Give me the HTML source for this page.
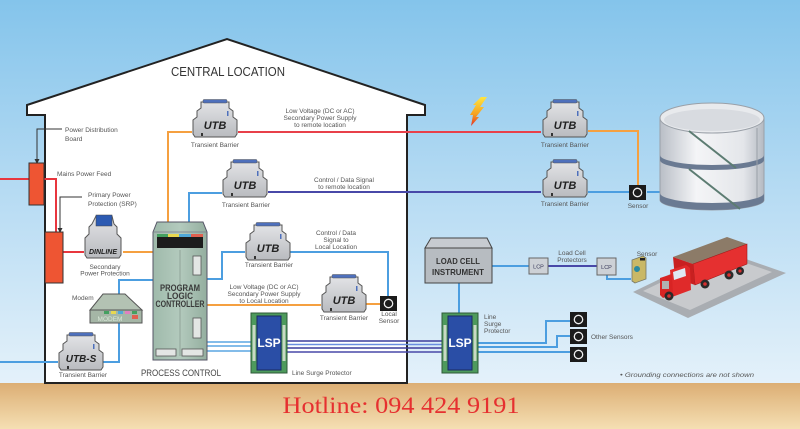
<!DOCTYPE html>
<html><head><meta charset="utf-8"><style>
html,body{margin:0;padding:0;background:#fff}
svg{display:block}
</style></head><body>
<svg width="800" height="429" viewBox="0 0 800 429" xmlns="http://www.w3.org/2000/svg" style="font-family:'Liberation Sans',sans-serif">
<defs>
<linearGradient id="sky" x1="0" y1="0" x2="0" y2="1">
<stop offset="0" stop-color="#84c4eb"/><stop offset="0.5" stop-color="#b6dbf3"/><stop offset="1" stop-color="#e4f1fa"/></linearGradient>
<linearGradient id="gnd" x1="0" y1="0" x2="0" y2="1">
<stop offset="0" stop-color="#dcae74"/><stop offset="1" stop-color="#f5dfb3"/></linearGradient>
<linearGradient id="dev" x1="0" y1="0" x2="0" y2="1">
<stop offset="0" stop-color="#e2e3e6"/><stop offset="1" stop-color="#b9bbbf"/></linearGradient>
<linearGradient id="plc" x1="0" y1="0" x2="1" y2="0">
<stop offset="0" stop-color="#9fbaab"/><stop offset="0.5" stop-color="#b3cabd"/><stop offset="1" stop-color="#94ae9f"/></linearGradient>
<linearGradient id="tank" x1="0" y1="0" x2="1" y2="0">
<stop offset="0" stop-color="#b9bec6"/><stop offset="0.35" stop-color="#f4f5f7"/><stop offset="0.8" stop-color="#e4e6ea"/><stop offset="1" stop-color="#b5bac2"/></linearGradient>
<linearGradient id="bolt" x1="0" y1="0" x2="0" y2="1">
<stop offset="0" stop-color="#ffe640"/><stop offset="0.6" stop-color="#f5a020"/><stop offset="1" stop-color="#e0302a"/></linearGradient>
<g id="utb">
<path d="M9,3 H37 V9 L41,12 V18 L45,21 V35 L43,38 H3 L1,35 V21 L5,18 V12 L9,9 Z" fill="url(#dev)" stroke="#555" stroke-width="1"/>
<rect x="11" y="0.5" width="24" height="3.5" rx="1" fill="#4e70bc" stroke="#555" stroke-width="0.5"/>
<rect x="35" y="12" width="1.5" height="5" fill="#4e70bc"/>
<rect x="9" y="34" width="2" height="3" fill="#333"/>
</g>
<g id="lsp">
<rect x="0" y="0" width="36" height="60" fill="#4d9a5c" stroke="#2e5a38" stroke-width="1"/>
<rect x="6" y="3" width="24" height="54" fill="#2a4ea6" stroke="#1a2a60" stroke-width="1"/>
<rect x="1.5" y="12" width="3" height="36" fill="#c9d9c4"/>
<rect x="31.5" y="12" width="3" height="36" fill="#c9d9c4"/>
</g>
<g id="sen">
<rect x="0" y="0" width="17" height="15" fill="#1b1b1b"/>
<circle cx="8.5" cy="7.5" r="4.2" fill="none" stroke="#eee" stroke-width="1.3"/>
</g>
</defs>

<!-- background -->
<rect x="0" y="0" width="800" height="384" fill="url(#sky)"/>
<rect x="0" y="383" width="800" height="46" fill="url(#gnd)"/>

<!-- house -->
<path d="M45,383 V115 H27 V105 L227,39 L425,105 V115 H407 V383 Z" fill="#fff" stroke="#222" stroke-width="2" stroke-linejoin="miter"/>
<text x="228" y="76" font-size="12.5" fill="#333" text-anchor="middle" textLength="114" lengthAdjust="spacingAndGlyphs">CENTRAL LOCATION</text>

<!-- lines -->
<g fill="none" stroke-width="2">
<path d="M0,179 H29" stroke="#e8363e"/>
<path d="M44,179 H56 V232" stroke="#e8363e"/>
<path d="M63,252 H84" stroke="#e8363e"/>
<path d="M238,132 H541" stroke="#e8404a"/>
<path d="M123,252 H153" stroke="#f5a040"/>
<path d="M192,132 H168 V222" stroke="#f5a040"/>
<path d="M205,305 H321" stroke="#f5a040"/>
<path d="M366,304 H380" stroke="#f5a040"/>
<path d="M588,131 H638 V185" stroke="#f5a040"/>
<g stroke="#4c9ee0">
<path d="M222,193 H189 V222"/>
<path d="M205,279 H222 V252 H245"/>
<path d="M290,252 H388 V296"/>
<path d="M153,280 H119 V294"/>
<path d="M119,323 V362 H103"/>
<path d="M0,362 H58"/>
<path d="M588,192 H629"/>
<path d="M647,192 H660"/>
<path d="M492,266 H529"/>
<path d="M607,275 V279 H631"/>
<path d="M459,283 V313"/>
<path d="M478,343 H546 V321 H570"/>
<path d="M478,347 H557 V336 H570"/>
<path d="M478,352 H570"/>
</g>
<g stroke="#5aa6e2" stroke-width="1.6">
<path d="M205,342 H251"/><path d="M205,346 H251"/><path d="M205,351 H251"/>
</g>
<path d="M268,192 H541" stroke="#4848a8"/>
<path d="M548,266 H597" stroke="#4848a8"/>
<g stroke-width="1.6">
<path d="M287,341 H443" stroke="#3c3c9c"/>
<path d="M287,344.5 H443" stroke="#6a8ee0"/>
<path d="M287,348 H443" stroke="#3c3c9c"/>
<path d="M287,352 H443" stroke="#4848a8"/>
</g>
</g>

<!-- leaders -->
<g fill="none" stroke="#333" stroke-width="1">
<path d="M62,129 H37 V160"/>
<path d="M82,197 H60 V229"/>
</g>
<path d="M34.5,159 L39.5,159 L37,164 Z" fill="#333"/>
<path d="M57.5,228 L62.5,228 L60,233 Z" fill="#333"/>

<!-- red boxes -->
<rect x="29" y="163" width="15" height="42" fill="#ee5533" stroke="#333" stroke-width="1"/>
<rect x="45" y="232" width="18" height="51" fill="#ee5533" stroke="#333" stroke-width="1"/>

<!-- labels -->
<g font-size="6.5" fill="#555">
<text x="65" y="132">Power Distribution</text>
<text x="65" y="141">Board</text>
<text x="57" y="176">Mains Power Feed</text>
<text x="88" y="197">Primary Power</text>
<text x="88" y="206">Protection (SRP)</text>
<text x="105" y="269" text-anchor="middle">Secondary</text>
<text x="105" y="275.5" text-anchor="middle">Power Protection</text>
<text x="72" y="300">Modem</text>
<text x="83" y="377" text-anchor="middle">Transient Barrier</text>
<text x="292" y="375">Line Surge Protector</text>
<text x="215" y="147" text-anchor="middle">Transient Barrier</text>
<text x="246" y="207" text-anchor="middle">Transient Barrier</text>
<text x="269" y="267" text-anchor="middle">Transient Barrier</text>
<text x="344" y="320" text-anchor="middle">Transient Barrier</text>
<text x="565" y="147" text-anchor="middle">Transient Barrier</text>
<text x="565" y="206" text-anchor="middle">Transient Barrier</text>
<text x="638" y="208" text-anchor="middle">Sensor</text>
<text x="389" y="316" text-anchor="middle">Local</text>
<text x="389" y="323" text-anchor="middle">Sensor</text>
<text x="320" y="113" text-anchor="middle">Low Voltage (DC or AC)</text>
<text x="320" y="120" text-anchor="middle">Secondary Power Supply</text>
<text x="320" y="127" text-anchor="middle">to remote location</text>
<text x="344" y="182" text-anchor="middle">Control / Data Signal</text>
<text x="344" y="189" text-anchor="middle">to remote location</text>
<text x="336" y="235" text-anchor="middle">Control / Data</text>
<text x="336" y="242" text-anchor="middle">Signal to</text>
<text x="336" y="249" text-anchor="middle">Local Location</text>
<text x="264" y="289" text-anchor="middle">Low Voltage (DC or AC)</text>
<text x="264" y="296" text-anchor="middle">Secondary Power Supply</text>
<text x="264" y="303" text-anchor="middle">to Local Location</text>
<text x="572" y="255" text-anchor="middle">Load Cell</text>
<text x="572" y="262" text-anchor="middle">Protectors</text>
<text x="647" y="256" text-anchor="middle">Sensor</text>
<text x="484" y="319">Line</text>
<text x="484" y="326">Surge</text>
<text x="484" y="333">Protector</text>
<text x="591" y="339">Other Sensors</text>
<text x="620" y="377" font-style="italic" font-size="6" textLength="134" lengthAdjust="spacingAndGlyphs">• Grounding connections are not shown</text>
</g>
<text x="181" y="376" font-size="9.5" fill="#444" text-anchor="middle" textLength="80" lengthAdjust="spacingAndGlyphs">PROCESS CONTROL</text>

<!-- UTB devices -->
<use href="#utb" x="192" y="99"/>
<use href="#utb" x="222" y="159"/>
<use href="#utb" x="245" y="222"/>
<use href="#utb" x="321" y="274"/>
<use href="#utb" x="542" y="99"/>
<use href="#utb" x="542" y="159"/>
<use href="#utb" x="58" y="332"/>
<g font-size="11" font-weight="bold" font-style="italic" fill="#222" text-anchor="middle">
<text x="215" y="129">UTB</text>
<text x="245" y="189">UTB</text>
<text x="268" y="252">UTB</text>
<text x="344" y="304">UTB</text>
<text x="565" y="129">UTB</text>
<text x="565" y="189">UTB</text>
<text x="81" y="362" font-size="10">UTB-S</text>
</g>

<!-- DINLINE -->
<path d="M96,216 H112 L114,224 L117,227 V234 L121,238 V255 L119,258 H87 L85,255 V238 L89,234 V227 L92,224 Z" fill="url(#dev)" stroke="#555" stroke-width="1"/>
<rect x="96" y="215" width="16" height="11" fill="#2c5ab2" stroke="#444" stroke-width="0.5"/>
<text x="103" y="254" font-size="7" font-weight="bold" font-style="italic" fill="#222" text-anchor="middle">DINLINE</text>

<!-- PLC -->
<path d="M153,232 L157,222 H203 L207,232 V360 H153 Z" fill="url(#plc)" stroke="#556" stroke-width="1"/>
<path d="M153,232 H207" stroke="#778" stroke-width="0.8"/>
<path d="M180,250 V356" stroke="#889a90" stroke-width="0.8"/>
<rect x="157" y="234" width="11" height="3" fill="#44a060"/>
<rect x="168" y="234" width="11" height="3" fill="#e8d850"/>
<rect x="179" y="234" width="12" height="3" fill="#50a8d8"/>
<rect x="191" y="234" width="12" height="3" fill="#e06050"/>
<rect x="157" y="237" width="46" height="11" fill="#1c1c1c"/>
<rect x="193" y="256" width="8" height="19" fill="#e3e6e4" stroke="#555" stroke-width="0.8"/>
<rect x="193" y="318" width="8" height="20" fill="#e3e6e4" stroke="#555" stroke-width="0.8"/>
<rect x="156" y="349" width="20" height="7" fill="#e3e6e4" stroke="#555" stroke-width="0.8"/>
<rect x="182" y="349" width="21" height="7" fill="#e3e6e4" stroke="#555" stroke-width="0.8"/>
<g font-size="9" font-weight="bold" fill="#3a3a3a" text-anchor="middle">
<text x="180" y="291" textLength="40" lengthAdjust="spacingAndGlyphs">PROGRAM</text>
<text x="180" y="299" textLength="26" lengthAdjust="spacingAndGlyphs">LOGIC</text>
<text x="180" y="307" textLength="49" lengthAdjust="spacingAndGlyphs">CONTROLLER</text>
</g>

<!-- Modem -->
<path d="M103,294 H125 L142,310 H90 Z" fill="#b3c2b3" stroke="#555" stroke-width="1"/>
<rect x="90" y="310" width="52" height="13" fill="#a5b6a6" stroke="#555" stroke-width="1"/>
<rect x="104" y="311" width="5" height="3" fill="#44a060"/>
<rect x="111" y="311" width="5" height="3" fill="#e8d850"/>
<rect x="118" y="311" width="5" height="3" fill="#50a8d8"/>
<rect x="125" y="311" width="5" height="3" fill="#e080c0"/>
<rect x="132" y="311" width="5" height="3" fill="#44a060"/>
<rect x="132" y="315" width="6" height="4" fill="#e06050"/>
<text x="110" y="321" font-size="6.5" fill="#d8e8d8" text-anchor="middle">MODEM</text>

<!-- LSP -->
<use href="#lsp" x="251" y="313"/>
<use href="#lsp" x="442" y="313"/>
<text x="269" y="347" font-size="12" font-weight="bold" fill="#fff" text-anchor="middle">LSP</text>
<text x="460" y="347" font-size="12" font-weight="bold" fill="#fff" text-anchor="middle">LSP</text>

<!-- sensors -->
<use href="#sen" x="380" y="296"/>
<use href="#sen" x="629" y="185"/>
<use href="#sen" x="570" y="312"/>
<use href="#sen" x="570" y="329"/>
<use href="#sen" x="570" y="347"/>

<!-- lightning -->
<path d="M487,97 L480,107 L484,107 L476,117 L479,117 L471,126 L473,115 L470,115 L476,105 L473,105 L481,97 Z" fill="url(#bolt)"/>

<!-- tank -->
<path d="M660,118 V200 A52,10 0 0 0 764,200 V118 Z" fill="url(#tank)" stroke="#9aa0a8" stroke-width="1"/>
<path d="M660,155 A52,10 0 0 0 764,155 V160 A52,10 0 0 1 660,160 Z" fill="#6a7a92"/>
<path d="M660,193 A52,10 0 0 0 764,193 V200 A52,10 0 0 1 660,200 Z" fill="#6a7a92"/>
<ellipse cx="712" cy="118" rx="52" ry="15" fill="#e8eaed" stroke="#9aa0a8" stroke-width="1"/>
<ellipse cx="712" cy="120" rx="48" ry="11" fill="#d8dbe0"/>
<path d="M689,131 L736,168" stroke="#5c7c72" stroke-width="2"/>
<path d="M689,169 L740,209" stroke="#5c7c72" stroke-width="2"/>
<path d="M757,128 V198" stroke="#9aa0a8" stroke-width="1"/>

<!-- load cell instrument -->
<path d="M431,238 H487 L492,248 H425 Z" fill="#c7cbd0" stroke="#444" stroke-width="1"/>
<rect x="425" y="248" width="67" height="35" fill="#b7bcc1" stroke="#444" stroke-width="1"/>
<g font-size="8.5" font-weight="bold" fill="#333" text-anchor="middle">
<text x="458" y="264" textLength="44" lengthAdjust="spacingAndGlyphs">LOAD CELL</text>
<text x="458" y="275" textLength="52" lengthAdjust="spacingAndGlyphs">INSTRUMENT</text>
</g>
<rect x="529" y="258" width="19" height="16" fill="#cdd1d6" stroke="#666" stroke-width="1"/>
<rect x="597" y="258" width="19" height="17" fill="#cdd1d6" stroke="#666" stroke-width="1"/>
<text x="538.5" y="268.5" font-size="5.5" fill="#335" text-anchor="middle">LCP</text>
<text x="606.5" y="269" font-size="5.5" fill="#335" text-anchor="middle">LCP</text>
<!-- load cell sensor -->
<path d="M632,260 L643,256 L646,258 V279 L635,283 L632,281 Z" fill="#c9b866" stroke="#776" stroke-width="0.8"/>
<rect x="640" y="258" width="5" height="2.5" fill="#222"/>
<circle cx="637" cy="269" r="3" fill="#2a8aa0"/>

<!-- truck scale platform -->
<path d="M633,292 L720,250 L786,273 L688,318 Z" fill="#a9adb2"/>
<path d="M643,291 L720,254 L772,272 L690,310 Z" fill="#c8cacd"/>
<!-- truck -->
<path d="M673,257 L727,237 L747,244 L693,264 Z" fill="#8c7b68"/>
<path d="M693,264 L747,244 L747,264 L695,285 Z" fill="#e53030" stroke="#a01818" stroke-width="0.6"/>
<path d="M673,257 L693,264 L695,285 L675,278 Z" fill="#c82020"/>
<path d="M670,270 L686,265 L690,268 L691,290 L672,297 Z" fill="#e02a2a"/>
<path d="M673,272 L685,268 L686,276 L674,280 Z" fill="#dfe8f2"/>
<path d="M660,278 L672,274 L673,294 L663,298 L660,295 Z" fill="#d82424"/>
<rect x="662" y="281" width="7" height="8" fill="#b0b0b0"/>
<g fill="#2a2a2a">
<circle cx="669" cy="296" r="4.5"/>
<circle cx="705" cy="284" r="4.5"/>
<circle cx="729" cy="275" r="4.5"/>
<circle cx="740" cy="271" r="4"/>
</g>
<g fill="#d83030">
<circle cx="669" cy="296" r="1.8"/>
<circle cx="705" cy="284" r="1.8"/>
<circle cx="729" cy="275" r="1.8"/>
<circle cx="740" cy="271" r="1.6"/>
</g>

<!-- hotline -->
<text x="401" y="413" style="font-family:'Liberation Serif',serif" font-size="23" fill="#e63030" text-anchor="middle" textLength="237" lengthAdjust="spacingAndGlyphs">Hotline: 094 424 9191</text>
</svg>
</body></html>
